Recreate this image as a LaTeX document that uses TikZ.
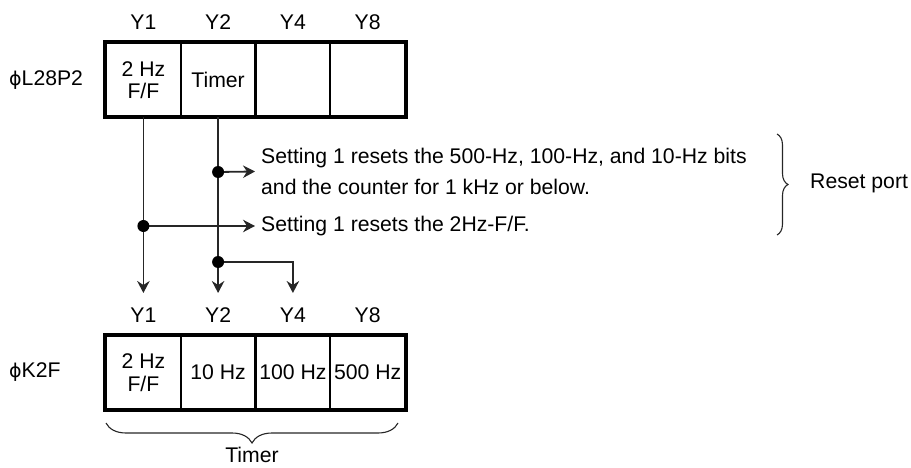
\documentclass[tikz,border=0pt]{standalone}
\usepackage{fontspec}
\setmainfont{Liberation Sans}
\newfontfamily\dvs{DejaVu Sans}
\usetikzlibrary{arrows.meta,decorations.pathreplacing}
\begin{document}
\begin{tikzpicture}[x=1pt,y=-1pt,
  every node/.style={font=\fontsize{21.2}{22.5}\selectfont, text=black},
  cell/.style={draw, line width=2pt, minimum width=74.75pt, minimum height=73pt, inner sep=0pt, align=center, font=\fontsize{21.2}{22.5}\selectfont},
  outer/.style={line width=4pt},
  lbl/.style={inner sep=0pt},
  conn/.style={line width=1.8pt, draw=black!85},
  arr/.style={conn, -{Stealth[length=12pt,width=12.5pt,inset=4pt]}},
  dot/.style={fill=black},
  txt/.style={anchor=west, inner xsep=6pt, inner ysep=0pt, align=left, font=\fontsize{21.2}{30.5}\selectfont},
  brc/.style={decorate, line width=1.1pt, draw=black!85}
]
\useasboundingbox (0,0) rectangle (911,468);

% top register
\node[cell] (t1) at (143.4,80) {2 Hz\\F/F};
\node[cell] (t2) at (218.1,80) {Timer};
\node[cell] (t3) at (292.9,80) {};
\node[cell] (t4) at (367.6,80) {};
\draw[outer] (t1.north west) rectangle (t4.south east);
\node[lbl] (ty1) at (143.4,22) {Y1};
\node[lbl] (ty2) at (218.1,22) {Y2};
\node[lbl] (ty4) at (292.9,22) {Y4};
\node[lbl] (ty8) at (367.6,22) {Y8};
\node[lbl, anchor=west] (pL) at (9,80) {{\dvs\fontsize{19}{20}\selectfont ϕ}L28P2};

% bottom register
\node[cell] (b1) at (143.4,372.5) {2 Hz\\F/F};
\node[cell] (b2) at (218.1,372.5) {10 Hz};
\node[cell] (b3) at (292.9,372.5) {100 Hz};
\node[cell] (b4) at (367.6,372.5) {500 Hz};
\draw[outer] (b1.north west) rectangle (b4.south east);
\node[lbl] (by1) at (143.4,315) {Y1};
\node[lbl] (by2) at (218.1,315) {Y2};
\node[lbl] (by4) at (292.9,315) {Y4};
\node[lbl] (by8) at (367.6,315) {Y8};
\node[lbl, anchor=west] (pK) at (9,372.5) {{\dvs\fontsize{19}{20}\selectfont ϕ}K2F};

% junctions and ends
\coordinate (d1) at (218.1,172);
\coordinate (d2) at (143.4,226);
\coordinate (d3) at (218.1,262);
\coordinate (e1) at (143.4,293);
\coordinate (e2) at (218.1,293);
\coordinate (e4) at (292.9,293);

% texts
\node[txt] (s1) at (255,171.5) {Setting 1 resets the 500-Hz, 100-Hz, and 10-Hz bits\\and the counter for 1 kHz or below.};
\node[txt] (s2) at (255,226) {Setting 1 resets the 2Hz-F/F.};

% connectors
\draw[arr] (t1.south) -- (e1);
\draw[arr] (t2.south) -- (e2);
\draw[arr] (d3) -| (e4);
\draw[arr] (d1) -- (s1.west);
\draw[arr] (d2) -- (s2.west);
\fill[dot] (d1) circle (6pt);
\fill[dot] (d2) circle (6pt);
\fill[dot] (d3) circle (6pt);

% braces
\coordinate (rb1) at (777,134);
\coordinate (rb2) at (777,235);
\draw[brc, decoration={brace, amplitude=11pt}] (rb1) -- (rb2);
\node[lbl, anchor=west] (rp) at (810,183) {Reset port};
\coordinate (bb1) at (398,423);
\coordinate (bb2) at (106,423);
\draw[brc, decoration={brace, amplitude=20pt}] (bb1) -- (bb2);
\node[lbl] (tm) at (252,455) {Timer};
\end{tikzpicture}
\end{document}
